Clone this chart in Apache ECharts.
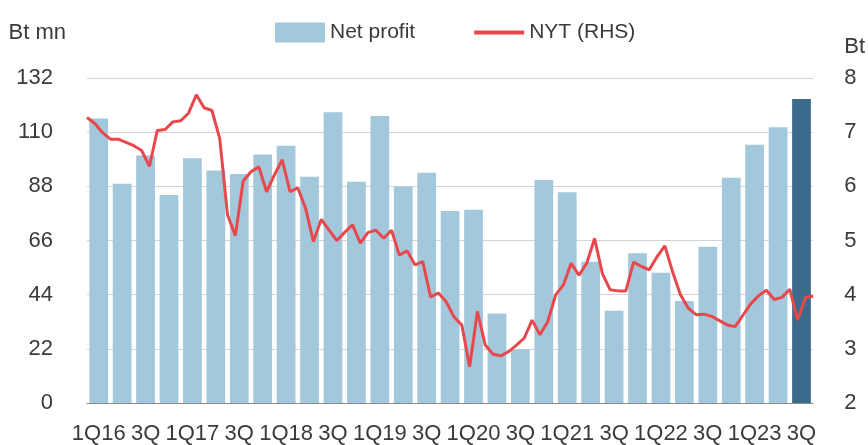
<!DOCTYPE html>
<html>
<head>
<meta charset="utf-8">
<script src="https://cdn.jsdelivr.net/npm/echarts@6/dist/echarts.min.js"></script>
<style>
  html, body { margin: 0; padding: 0; background: #fff; }
  #chart { width: 868px; height: 445px; }
</style>
</head>
<body>
<div id="chart"></div>
<script>
// quarterly labels (only every 2nd one is shown on the axis)
var quarters = ['1Q16', '2Q', '3Q', '4Q', '1Q17', '2Q', '3Q', '4Q', '1Q18', '2Q', '3Q', '4Q',
    '1Q19', '2Q', '3Q', '4Q', '1Q20', '2Q', '3Q', '4Q', '1Q21', '2Q', '3Q', '4Q',
    '1Q22', '2Q', '3Q', '4Q', '1Q23', '2Q', '3Q'];

// net profit, Bt mn
var netProfit = [115.6, 89.0, 100.5, 84.5, 99.4, 94.4, 93.0, 100.9, 104.5, 91.9, 118.1, 89.9,
    116.6, 87.9, 93.5, 78.0, 78.5, 36.4, 21.8, 90.6, 85.6, 57.4, 37.5, 60.8,
    52.9, 41.4, 63.5, 91.5, 104.9, 112.0, 123.5];

// NYT share price, Bt (monthly, right axis)
var nyt = [7.27, 7.16, 6.99, 6.87, 6.87, 6.81, 6.75, 6.66, 6.37, 7.03, 7.05, 7.19, 7.21, 7.35, 7.69, 7.45,
    7.40, 6.88, 5.47, 5.09, 6.10, 6.27, 6.36, 5.90, 6.21, 6.49, 5.90, 5.97, 5.59, 4.98, 5.39, 5.19,
    5.00, 5.15, 5.29, 4.95, 5.15, 5.19, 5.04, 5.19, 4.73, 4.81, 4.55, 4.61, 3.96, 4.03, 3.87, 3.59,
    3.44, 2.67, 3.69, 3.07, 2.90, 2.87, 2.95, 3.07, 3.20, 3.53, 3.26, 3.50, 3.99, 4.18, 4.58, 4.36,
    4.58, 5.04, 4.39, 4.09, 4.07, 4.07, 4.60, 4.52, 4.46, 4.70, 4.90, 4.42, 4.00, 3.75, 3.63, 3.64,
    3.60, 3.52, 3.44, 3.41, 3.62, 3.83, 3.98, 4.08, 3.91, 3.95, 4.10, 3.53, 3.95, 3.97];

var lightBlue = '#a3c8dc';
var darkBlue = '#3c6a8a';
var red = '#e8484c';
var txt = '#3a3a3a';
var font = 'Liberation Sans';
var fs = 22;

var barData = netProfit.map(function (v, i) {
    if (i == netProfit.length - 1) {
        return { value: v, itemStyle: { color: darkBlue } };
    }
    return v;
});

var months = nyt.map(function (v, i) { return String(i); });

var myChart = echarts.init(document.getElementById('chart'));

var option = {
    animation: false,
    legend: {
        left: 270,
        top: 17,
        itemWidth: 50,
        itemHeight: 20,
        itemGap: 57,
        textStyle: { fontSize: 21, color: txt, fontFamily: font },
        data: [
            { name: 'Net profit', icon: 'rect' },
            { name: 'NYT (RHS)', itemStyle: { opacity: 0 }, lineStyle: { width: 4, color: red } }
        ]
    },
    grid: { left: 87, right: 50, top: 78, bottom: 42 },
    xAxis: [
        {
            type: 'category',
            data: quarters,
            axisLine: { lineStyle: { color: '#8c8c8c', width: 1 } },
            axisTick: { interval: 0, length: 12, lineStyle: { color: '#8c8c8c' } },
            axisLabel: { interval: 1, margin: 20, fontSize: fs, color: txt, fontFamily: font }
        },
        {
            type: 'category',
            data: months,
            boundaryGap: false,
            show: false
        }
    ],
    yAxis: [
        {
            type: 'value',
            min: 0,
            max: 132,
            interval: 22,
            name: 'Bt mn',
            nameGap: 34,
            nameTextStyle: { fontSize: fs, color: txt, fontFamily: font, align: 'right', padding: [0, 21, 0, 0] },
            axisLine: { show: false },
            axisTick: { show: false },
            axisLabel: { margin: 34, fontSize: fs, color: txt, fontFamily: font },
            splitLine: { lineStyle: { color: '#d4d4d4', width: 1 } }
        },
        {
            type: 'value',
            min: 2,
            max: 8,
            interval: 1,
            name: 'Bt',
            nameGap: 20,
            nameTextStyle: { fontSize: fs, color: txt, fontFamily: font, align: 'left', padding: [0, 0, 0, 31] },
            axisLine: { show: false },
            axisTick: { show: false },
            axisLabel: { margin: 31, fontSize: fs, color: txt, fontFamily: font },
            splitLine: { show: false }
        }
    ],
    series: [
        {
            name: 'Net profit',
            type: 'bar',
            data: barData,
            barCategoryGap: '20%',
            itemStyle: { color: lightBlue }
        },
        {
            name: 'NYT (RHS)',
            type: 'line',
            xAxisIndex: 1,
            yAxisIndex: 1,
            data: nyt,
            symbol: 'none',
            lineStyle: { color: red, width: 3 },
            itemStyle: { color: red }
        }
    ]
};
myChart.setOption(option);
</script>
</body>
</html>
